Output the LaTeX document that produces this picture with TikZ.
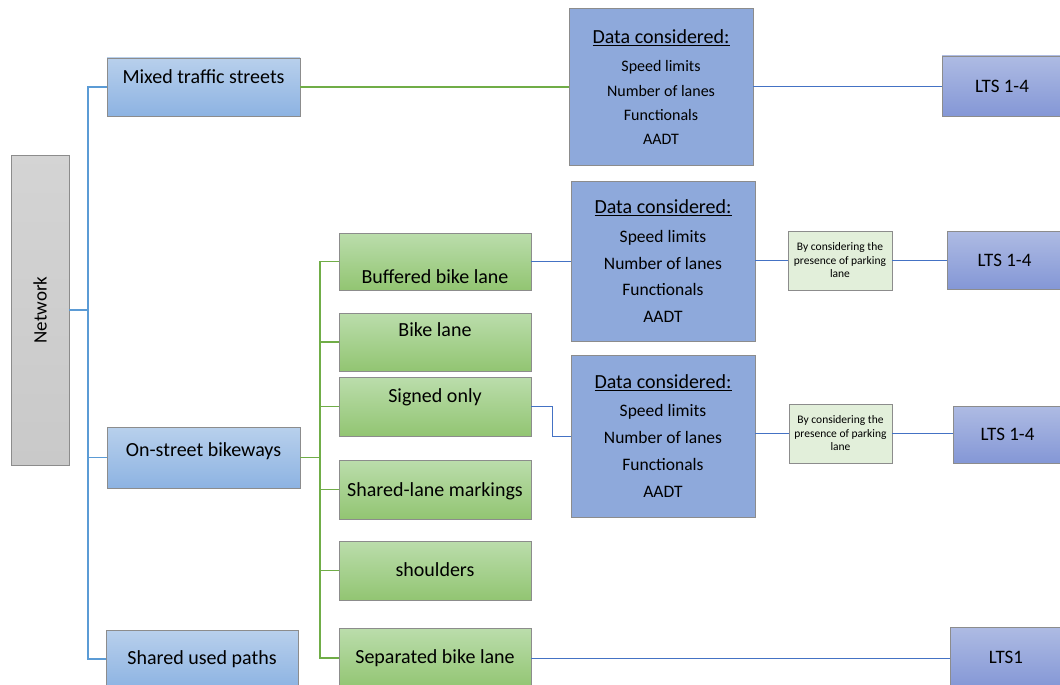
\documentclass[tikz,border=0pt]{standalone}
\usepackage{fontspec}
\setmainfont{Carlito}
\definecolor{lbtop}{HTML}{B8D0EC}
\definecolor{lbbot}{HTML}{8DB3E2}
\definecolor{gtop}{HTML}{BBDDAC}
\definecolor{gbot}{HTML}{92C572}
\definecolor{dfill}{HTML}{8EA9DB}
\definecolor{ltop}{HTML}{AEBBE3}
\definecolor{lbot}{HTML}{8497D6}
\definecolor{pfill}{HTML}{E2EFDA}
\definecolor{netfill}{HTML}{C9C9C9}
\definecolor{lineL}{HTML}{5B9BD5}
\definecolor{lineR}{HTML}{4472C4}
\definecolor{lineG}{HTML}{70AD47}
\definecolor{bord}{HTML}{8C8C8C}
\begin{document}
\begin{tikzpicture}[x=1pt,y=-1pt,
  box/.style={rectangle,draw=bord,line width=0.6pt,inner sep=0pt},
  netbox/.style={box,top color=netfill!80,bottom color=netfill},
  lvone/.style={box,top color=lbtop,bottom color=lbbot},
  grbox/.style={box,top color=gtop,bottom color=gbot},
  databox/.style={box,fill=dfill},
  ltsbox/.style={box,top color=ltop,bottom color=lbot},
  parkbox/.style={box,fill=pfill},
  txt/.style={inner sep=0pt,anchor=mid,yshift=-4.5pt,font=\fontsize{20}{24}\selectfont},
  itema/.style={inner sep=0pt,anchor=mid,yshift=-4pt,font=\fontsize{16}{19}\selectfont},
  itemb/.style={inner sep=0pt,anchor=mid,yshift=-4pt,font=\fontsize{17.5}{21}\selectfont},
  ptxt/.style={inner sep=0pt,align=center,font=\fontsize{11.5}{13.5}\selectfont},
  ltxt/.style={inner sep=0pt,font=\fontsize{19}{23}\selectfont},
  lnL/.style={draw=lineL,line width=1.1pt},
  lnR/.style={draw=lineR,line width=1pt},
  lnG/.style={draw=lineG,line width=1.2pt}]
\useasboundingbox (0,0) rectangle (1060,685);

% left column
\node[netbox,minimum width=58pt,minimum height=310pt] (net) at (40,310) {};
\node[rotate=90,inner sep=0pt,font=\fontsize{19}{23}\selectfont] (nett) at (40,310) {Network};

\node[lvone,minimum width=193pt,minimum height=58pt] (mixed) at (203.5,87) {};
\node[txt] (mixedt) at (203.5,77) {Mixed traffic streets};
\node[lvone,minimum width=193pt,minimum height=61pt] (onst) at (203.5,457.5) {};
\node[txt] (onstt) at (203.5,450) {On-street bikeways};
\node[lvone,minimum width=192pt,minimum height=58pt] (shared) at (202,659) {};
\node[txt] (sharedt) at (202,658) {Shared used paths};

% green column
\node[grbox,minimum width=192pt,minimum height=57pt] (buf) at (435,261.5) {};
\node[txt] (buft) at (435,277) {Buffered bike lane};
\node[grbox,minimum width=192pt,minimum height=58pt] (bike) at (435,342) {};
\node[txt] (biket) at (435,330) {Bike lane};
\node[grbox,minimum width=192pt,minimum height=59pt] (sign) at (435,406.5) {};
\node[txt] (signt) at (435,396) {Signed only};
\node[grbox,minimum width=192pt,minimum height=59pt] (shl) at (435,489.5) {};
\node[txt] (shlt) at (435,490) {Shared-lane markings};
\node[grbox,minimum width=192pt,minimum height=59pt] (sho) at (435,570.5) {};
\node[txt] (shot) at (435,570) {shoulders};
\node[grbox,minimum width=192pt,minimum height=60pt] (sep) at (435,658) {};
\node[txt] (sept) at (435,657) {Separated bike lane};

% data boxes
\node[databox,minimum width=184pt,minimum height=157pt] (d1) at (661,86.5) {};
\node[txt] (d1t) at (661,37) {\underline{Data considered:}};
\node[itema] (d1a) at (661,65) {Speed limits};
\node[itema] (d1b) at (661,90) {Number of lanes};
\node[itema] (d1c) at (661,114) {Functionals};
\node[itema] (d1d) at (661,138) {AADT};

\node[databox,minimum width=184pt,minimum height=160pt] (d2) at (663,261) {};
\node[txt] (d2t) at (663,207) {\underline{Data considered:}};
\node[itemb] (d2a) at (663,236) {Speed limits};
\node[itemb] (d2b) at (663,263) {Number of lanes};
\node[itemb] (d2c) at (663,289.5) {Functionals};
\node[itemb] (d2d) at (663,316) {AADT};

\node[databox,minimum width=184pt,minimum height=162pt] (d3) at (663,436) {};
\node[txt] (d3t) at (663,382) {\underline{Data considered:}};
\node[itemb] (d3a) at (663,410) {Speed limits};
\node[itemb] (d3b) at (663,437) {Number of lanes};
\node[itemb] (d3c) at (663,464) {Functionals};
\node[itemb] (d3d) at (663,491) {AADT};

% parking boxes
\node[parkbox,minimum width=104pt,minimum height=59pt] (p1) at (840,260.5) {};
\node[ptxt] (p1t) at (840,260.5) {By considering the\\presence of parking\\lane};
\node[parkbox,minimum width=103pt,minimum height=59pt] (p2) at (840.5,433.5) {};
\node[ptxt] (p2t) at (840.5,433.5) {By considering the\\presence of parking\\lane};

% LTS boxes
\node[ltsbox,minimum width=120pt,minimum height=60pt] (l1) at (1002,86) {};
\node[ltxt] (l1t) at (1002,86) {LTS 1-4};
\node[ltsbox,minimum width=115pt,minimum height=58pt] (l2) at (1004.5,260) {};
\node[ltxt] (l2t) at (1004.5,260) {LTS 1-4};
\node[ltsbox,minimum width=109pt,minimum height=57pt] (l3) at (1007.5,434.5) {};
\node[ltxt] (l3t) at (1007.5,434.5) {LTS 1-4};
\node[ltsbox,minimum width=112pt,minimum height=61pt] (l4) at (1006,657.5) {};
\node[ltxt] (l4t) at (1006,657.5) {LTS1};

% left trunk
\coordinate (tr) at (88,310);
\draw[lnL] (net.east) -- (tr);
\draw[lnL] (tr) |- (mixed.west);
\draw[lnL] (tr) |- (onst.west);
\draw[lnL] (tr) |- (shared.west);

% green trunk
\coordinate (tg) at (320,457.5);
\draw[lnG] (onst.east) -- (tg);
\draw[lnG] (tg) |- (buf.west);
\draw[lnG] (tg) |- (bike.west);
\draw[lnG] (tg) |- (sign.west);
\draw[lnG] (tg) |- (shl.west);
\draw[lnG] (tg) |- (sho.west);
\draw[lnG] (tg) |- (sep.west);

% right connectors
\draw[lnG] (mixed.east) -- (d1.west |- mixed.east);
\draw[lnR] (d1.east |- l1.west) -- (l1.west);
\draw[lnR] (buf.east) -- (d2.west |- buf.east);
\draw[lnR] (d2.east |- p1.west) -- (p1.west);
\draw[lnR] (p1.east) -- (l2.west |- p1.east);
\coordinate (sj) at (552,406.5);
\draw[lnR] (sign.east) -- (sj) |- (d3.west);
\draw[lnR] (d3.east |- p2.west) -- (p2.west);
\draw[lnR] (p2.east) -- (l3.west |- p2.east);
\draw[lnR] (sep.east) -- (l4.west |- sep.east);
\end{tikzpicture}
\end{document}
